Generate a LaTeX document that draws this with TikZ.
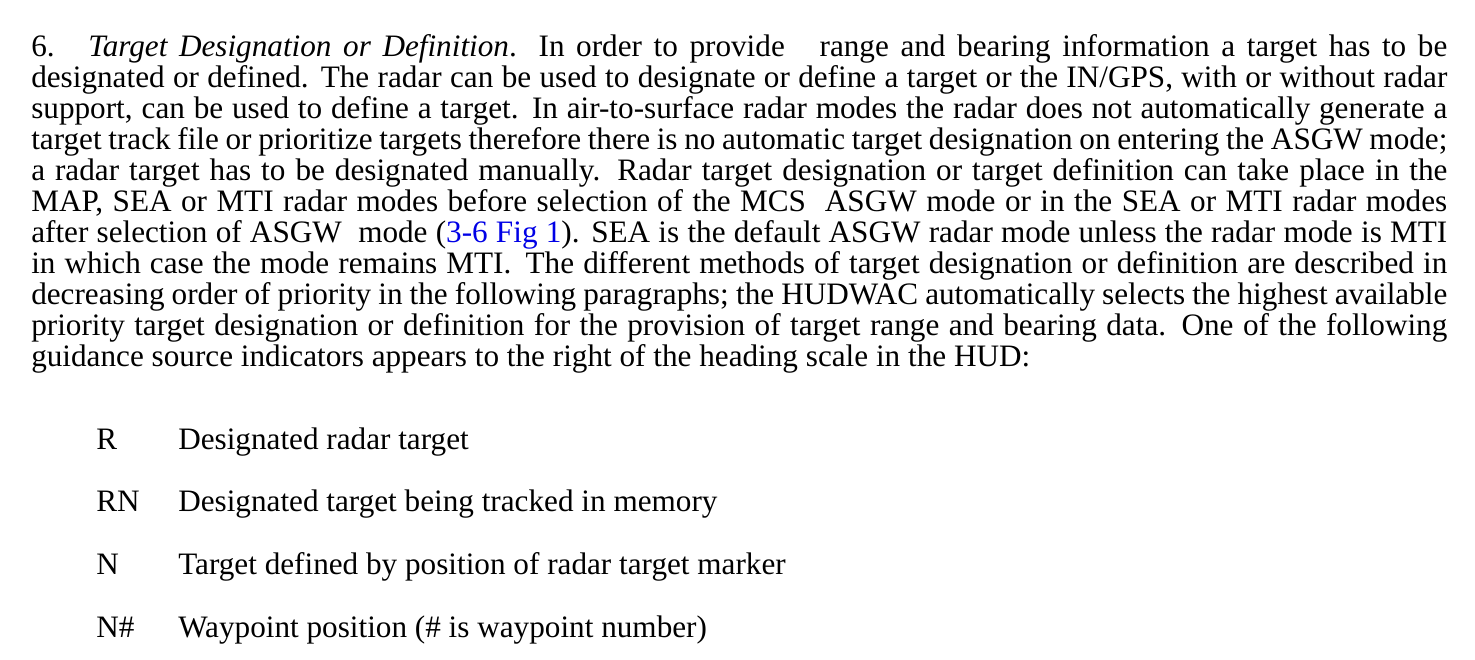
\documentclass[tikz,border=0pt]{standalone}
\usepackage{fontspec}
\setmainfont{Liberation Serif}
\definecolor{linkblue}{RGB}{0,0,230}

\begin{document}
\begin{tikzpicture}[x=0.75pt,y=-0.75pt,
  para/.style={anchor=base west,inner sep=0pt,text width=1062pt,align=justify,
    font=\fontsize{23.4}{23.2}\selectfont},
  tag/.style={anchor=base west,inner sep=0pt,font=\fontsize{23.4}{23.2}\selectfont},
  desc/.style={tag}]
\useasboundingbox[fill=white] (0,0) rectangle (1475,660);
% main paragraph
\node[para] (text) at (31,57) {\hyphenpenalty=10000 \exhyphenpenalty=10000 \tolerance=9999
  \hbox to 42.75pt{6.\hfil}\textit{Target Designation or Definition}. In order to provide\ \ \ range and bearing information a target has to be\linebreak
  designated or defined. The radar can be used to designate or define a target or the IN/GPS, with or without radar\linebreak
  support, can be used to define a target. In air-to-surface radar modes the radar does not automatically generate a\linebreak
  target track file or prioritize targets therefore there is no automatic target designation on entering the ASGW mode;\linebreak
  a radar target has to be designated manually. Radar target designation or target definition can take place in the\linebreak
  MAP, SEA or MTI radar modes before selection of the MCS\ \ ASGW mode or in the SEA or MTI radar modes\linebreak
  after selection of ASGW\ \ mode (\textcolor{linkblue}{3-6 Fig 1}). SEA is the default ASGW radar mode unless the radar mode is MTI\linebreak
  in which case the mode remains MTI\@. The different methods of target designation or definition are described in\linebreak
  decreasing order of priority in the following paragraphs; the HUDWAC automatically selects the highest available\linebreak
  priority target designation or definition for the provision of target range and bearing data. One of the following\linebreak
  guidance source indicators appears to the right of the heading scale in the HUD:};
% indicators
\node[tag] (r) at (96,449) {R};
\node[desc] (rdesc) at (178,449) {Designated radar target};
\node[tag] (rn) at (96,511) {RN};
\node[desc] (rndesc) at (178,511) {Designated target being tracked in memory};
\node[tag] (n) at (96,574) {N};
\node[desc] (ndesc) at (178,574) {Target defined by position of radar target marker};
\node[tag] (nw) at (96,637) {N\#};
\node[desc] (nwdesc) at (178,637) {Waypoint position (\# is waypoint number)};
\end{tikzpicture}
\end{document}
